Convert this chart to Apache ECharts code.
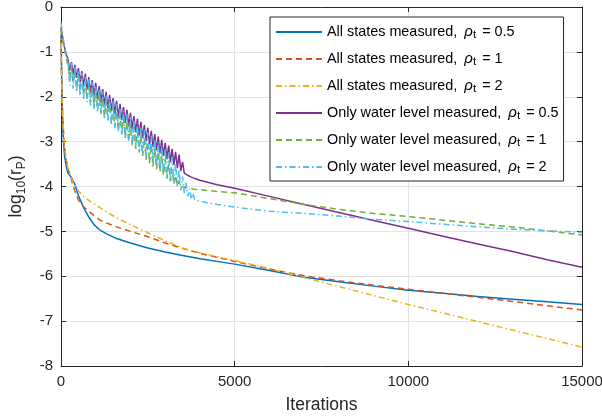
<!DOCTYPE html>
<html>
<head>
<meta charset="utf-8">
<script src="https://cdn.jsdelivr.net/npm/echarts@6/dist/echarts.min.js"></script>
<style>html,body{margin:0;padding:0;background:#fff;}#c{width:602px;height:417px;}</style>
</head>
<body>
<div id="c"></div>
<script>
// ---- data ----
var legendNames = [
  'All states measured, ρt = 0.5',
  'All states measured, ρt = 1',
  'All states measured, ρt = 2',
  'Only water level measured, ρt = 0.5',
  'Only water level measured, ρt = 1',
  'Only water level measured, ρt = 2'
];
var xTicks = [0, 5000, 10000, 15000];
var yTicks = [0, -1, -2, -3, -4, -5, -6, -7, -8];

// iterations for the "all states" curves
var xAll = [0, 20, 50, 100, 150, 200, 300, 400, 500, 650, 800, 950, 1100, 1300, 1600, 2000, 2500, 3000, 3500, 4000, 5000, 6000, 7000, 8000, 9000, 10000, 11000, 12000, 13000, 14000, 15000];
var allRho05 = [-0.6, -1.6, -2.7, -3.3, -3.55, -3.7, -3.8, -3.95, -4.2, -4.47, -4.68, -4.85, -4.96, -5.05, -5.16, -5.26, -5.37, -5.46, -5.54, -5.61, -5.73, -5.87, -6.02, -6.12, -6.22, -6.31, -6.38, -6.45, -6.51, -6.57, -6.63];
var allRho1  = [-0.7, -1.6, -2.5, -3.1, -3.4, -3.6, -3.85, -4.1, -4.3, -4.45, -4.55, -4.65, -4.74, -4.81, -4.9, -5.0, -5.12, -5.26, -5.38, -5.49, -5.67, -5.84, -5.99, -6.1, -6.2, -6.29, -6.38, -6.47, -6.56, -6.66, -6.75];
var allRho2  = [-0.5, -1.8, -2.6, -3.1, -3.4, -3.6, -3.82, -3.97, -4.1, -4.22, -4.31, -4.38, -4.46, -4.56, -4.7, -4.85, -5.03, -5.21, -5.37, -5.48, -5.65, -5.83, -6.03, -6.23, -6.43, -6.63, -6.82, -7.01, -7.2, -7.39, -7.58];

// iterations for the "only water level" curves
var xWater = [0,50,100,150,200,250,300,350,400,450,500,550,600,650,700,750,800,850,900,950,
  1000,1050,1100,1150,1200,1250,1300,1350,1400,1450,1500,1550,1600,1650,1700,1750,1800,1850,1900,1950,
  2000,2050,2100,2150,2200,2250,2300,2350,2400,2450,2500,2550,2600,2650,2700,2750,2800,2850,2900,2950,
  3000,3050,3100,3150,3200,3250,3300,3350,3400,3450,3500,3550,3600,3650,3700,3750,3800,3850,
  4000,4500,5000,6000,7000,8000,9000,10000,11000,12000,13000,14000,15000];
var waterRho05 = [-0.45,-0.7,-0.9,-1.05,-1.16,-1.41,-1.23,-1.50,-1.29,-1.58,-1.36,-1.68,-1.43,-1.76,-1.49,-1.85,-1.56,-1.92,-1.63,-1.99,
  -1.69,-2.06,-1.76,-2.12,-1.83,-2.19,-1.89,-2.26,-1.96,-2.32,-2.03,-2.39,-2.09,-2.46,-2.16,-2.52,-2.23,-2.59,-2.29,-2.66,
  -2.36,-2.72,-2.43,-2.79,-2.49,-2.86,-2.56,-2.92,-2.63,-2.99,-2.69,-3.06,-2.76,-3.12,-2.83,-3.19,-2.89,-3.26,-2.96,-3.32,
  -3.03,-3.39,-3.09,-3.46,-3.16,-3.52,-3.23,-3.59,-3.29,-3.65,-3.45,-3.70,-3.72,-3.75,-3.77,-3.79,-3.81,-3.82,
  -3.86,-3.96,-4.04,-4.22,-4.40,-4.58,-4.76,-4.93,-5.11,-5.28,-5.45,-5.63,-5.80];
var waterRho1 = [-0.5,-0.75,-0.95,-1.1,-1.3,-1.6,-1.35,-1.7,-1.42,-1.8,-1.5,-1.88,-1.57,-1.96,-1.65,-2.04,-1.72,-2.12,-1.8,-2.2,
  -1.87,-2.28,-1.95,-2.36,-2.02,-2.44,-2.1,-2.52,-2.17,-2.6,-2.25,-2.68,-2.32,-2.76,-2.4,-2.84,-2.47,-2.92,-2.55,-3.0,
  -2.62,-3.08,-2.7,-3.16,-2.77,-3.24,-2.85,-3.32,-2.92,-3.4,-3.0,-3.48,-3.07,-3.56,-3.15,-3.62,-3.22,-3.68,-3.3,-3.75,
  -3.4,-3.82,-3.5,-3.88,-3.62,-3.94,-3.75,-3.98,-3.88,-4.01,-4.0,-4.01,-4.02,-4.03,-4.04,-4.05,-4.06,-4.06,
  -4.07,-4.11,-4.14,-4.27,-4.40,-4.51,-4.6,-4.67,-4.75,-4.83,-4.9,-4.99,-5.08];
var waterRho2 = [-0.35,-0.6,-0.9,-1.1,-1.15,-1.75,-1.25,-1.82,-1.32,-1.9,-1.4,-1.98,-1.47,-2.05,-1.54,-2.12,-1.61,-2.2,-1.68,-2.27,
  -1.75,-2.34,-1.82,-2.41,-1.89,-2.48,-1.96,-2.55,-2.03,-2.62,-2.1,-2.7,-2.17,-2.77,-2.24,-2.84,-2.31,-2.91,-2.38,-2.98,
  -2.45,-3.05,-2.52,-3.12,-2.59,-3.2,-2.66,-3.27,-2.73,-3.34,-2.8,-3.41,-2.87,-3.48,-2.94,-3.56,-3.01,-3.63,-3.08,-3.7,
  -3.15,-3.78,-3.24,-3.85,-3.35,-3.93,-3.48,-4.0,-3.62,-4.08,-3.78,-4.15,-3.92,-4.22,-4.05,-4.28,-4.15,-4.3,
  -4.33,-4.4,-4.46,-4.55,-4.6,-4.66,-4.73,-4.78,-4.84,-4.9,-4.95,-4.99,-5.02];

// ---- chart ----
function pairs(xs, ys) { return xs.map(function (x, i) { return [x, ys[i]]; }); }
var FONT = '"Liberation Sans", Arial, Helvetica, sans-serif';
var colors = ['#0072BD', '#D95319', '#EDB120', '#7E2F8E', '#77AC30', '#4DBEEE'];
var DASH = [6, 4];
var DASHDOT = [6, 3, 1.5, 3];
var styles = ['solid', DASH, DASHDOT, 'solid', DASH, DASHDOT];
var dataSets = [pairs(xAll, allRho05), pairs(xAll, allRho1), pairs(xAll, allRho2),
                pairs(xWater, waterRho05), pairs(xWater, waterRho1), pairs(xWater, waterRho2)];

var series = dataSets.map(function (d, i) {
  return {
    name: legendNames[i], type: 'line', data: d, showSymbol: false, symbol: 'none',
    lineStyle: { color: colors[i], width: 1.5, type: styles[i] },
    itemStyle: { color: colors[i] },
    z: 2 + i
  };
});

var axisCol = '#262626';
var plain = function (v) { return String(v); };
var chart = echarts.init(document.getElementById('c'), null, { renderer: 'canvas' });
chart.setOption({
  animation: false,
  backgroundColor: '#ffffff',
  textStyle: { fontFamily: FONT },
  grid: { left: 61, right: 20, top: 7, bottom: 51, containLabel: false, outerBoundsMode: 'none' },
  xAxis: [{
    type: 'value', min: xTicks[0], max: xTicks[xTicks.length - 1], interval: 5000,
    name: 'Iterations', nameLocation: 'middle', nameGap: 30,
    nameTextStyle: { fontFamily: FONT, fontSize: 17.5, color: axisCol },
    axisLine: { show: true, onZero: false, lineStyle: { color: axisCol, width: 1 } },
    axisTick: { show: true, inside: true, length: 5, lineStyle: { color: axisCol } },
    axisLabel: { fontFamily: FONT, fontSize: 15, color: axisCol, margin: 8, formatter: plain },
    splitLine: { show: true, lineStyle: { color: '#e3e3e3', width: 1 } }
  }, {
    type: 'value', position: 'top', min: xTicks[0], max: xTicks[xTicks.length - 1], interval: 5000,
    axisLine: { show: true, onZero: false, lineStyle: { color: axisCol, width: 1 } },
    axisTick: { show: true, inside: true, length: 5, lineStyle: { color: axisCol } },
    axisLabel: { show: false }, splitLine: { show: false }
  }],
  yAxis: [{
    type: 'value', min: yTicks[yTicks.length - 1], max: yTicks[0], interval: 1,
    name: '{a|log}{s|10}{a|(r}{s|P}{a|)}', nameLocation: 'middle', nameGap: 33, nameRotate: 90,
    nameTextStyle: {
      color: axisCol,
      rich: {
        a: { fontFamily: FONT, fontSize: 17.5, color: axisCol, lineHeight: 24, verticalAlign: 'middle' },
        s: { fontFamily: FONT, fontSize: 12, color: axisCol, verticalAlign: 'bottom', lineHeight: 24, padding: [9, 0, 0, 0] }
      }
    },
    axisLine: { show: true, onZero: false, lineStyle: { color: axisCol, width: 1 } },
    axisTick: { show: true, inside: true, length: 5, lineStyle: { color: axisCol } },
    axisLabel: { fontFamily: FONT, fontSize: 15, color: axisCol, margin: 8, formatter: plain },
    splitLine: { show: true, lineStyle: { color: '#e3e3e3', width: 1 } }
  }, {
    type: 'value', position: 'right', min: yTicks[yTicks.length - 1], max: yTicks[0], interval: 1,
    axisLine: { show: true, onZero: false, lineStyle: { color: axisCol, width: 1 } },
    axisTick: { show: true, inside: true, length: 5, lineStyle: { color: axisCol } },
    axisLabel: { show: false }, splitLine: { show: false }
  }],
  legend: {
    orient: 'vertical', left: 270, top: 17,
    padding: [5, 5, 5, 5], itemGap: 8, itemWidth: 46, itemHeight: 14,
    backgroundColor: '#ffffff', borderColor: axisCol, borderWidth: 1,
    itemStyle: { opacity: 0 },
    data: legendNames,
    formatter: function (name) {
      var m = name.match(/^(.*), ρt = (.*)$/);
      return '{a|' + m[1] + ', }{g|ρ}{s|t}{a| = ' + m[2] + '}';
    },
    textStyle: {
      color: '#000',
      rich: {
        a: { fontFamily: FONT, fontSize: 14.4, color: '#000', lineHeight: 18, verticalAlign: 'middle' },
        g: { fontFamily: FONT, fontSize: 15, fontStyle: 'italic', color: '#000', lineHeight: 18, verticalAlign: 'middle', padding: [0, 0, 0, 3] },
        s: { fontFamily: FONT, fontSize: 11.5, color: '#000', lineHeight: 18, verticalAlign: 'bottom', padding: [7, 2, 0, 0] }
      }
    }
  },
  series: series
});
</script>
</body>
</html>
